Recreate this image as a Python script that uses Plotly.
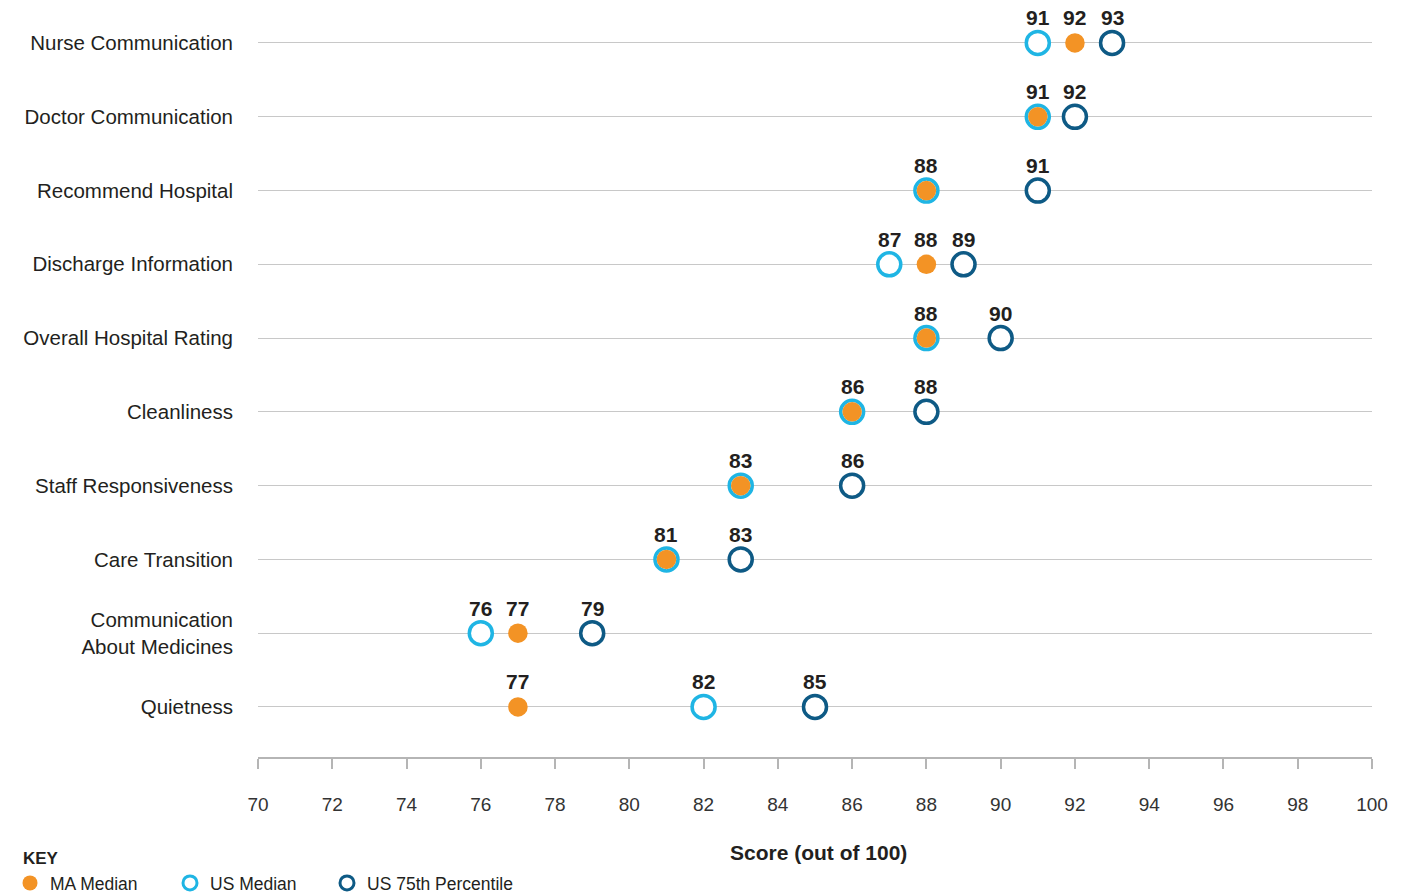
import plotly.graph_objects as go

categories = ["Nurse Communication", "Doctor Communication", "Recommend Hospital",
              "Discharge Information", "Overall Hospital Rating", "Cleanliness",
              "Staff Responsiveness", "Care Transition",
              "Communication<br>About Medicines", "Quietness"]
ma_median = [92, 91, 88, 88, 88, 86, 83, 81, 77, 77]
us_median = [91, 91, 88, 87, 88, 86, 83, 81, 76, 82]
us_75th = [93, 92, 91, 89, 90, 88, 86, 83, 79, 85]
x_ticks = list(range(70, 101, 2))

ORANGE = "#f39325"
CYAN = "#1fb5e4"
NAVY = "#0e5a85"
TEXT = "#231f20"
BASE = "Liberation Sans, Arial, sans-serif"
COND = "Liberation Sans Narrow, Liberation Sans, Arial, sans-serif"

W, H = 1400, 885          # page body adds an 8px margin
L, R, T, B = 250, 36, 2, 136
PW = W - L - R
PH = H - T - B

n = len(categories)
ypos = [n - 1 - i for i in range(n)]

fig = go.Figure()
fig.add_trace(go.Scatter(
    x=us_75th, y=ypos, mode="markers", name="US 75th Percentile", showlegend=False,
    marker=dict(size=23, color="white", line=dict(color=NAVY, width=3.5)),
    hoverinfo="skip"))
fig.add_trace(go.Scatter(
    x=us_median, y=ypos, mode="markers", name="US Median", showlegend=False,
    marker=dict(size=23, color="white", line=dict(color=CYAN, width=3.5)),
    hoverinfo="skip"))
fig.add_trace(go.Scatter(
    x=ma_median, y=ypos, mode="markers", name="MA Median", showlegend=False,
    marker=dict(size=19.5, color=ORANGE, line=dict(width=0)),
    hoverinfo="skip"))

# legend-only entries
fig.add_trace(go.Scatter(x=[None], y=[None], mode="markers", name="MA Median",
                         legend="legend",
                         marker=dict(size=15, color=ORANGE, line=dict(width=0))))
fig.add_trace(go.Scatter(x=[None], y=[None], mode="markers", name="US Median",
                         legend="legend2",
                         marker=dict(size=14, color="white", line=dict(color=CYAN, width=3))))
fig.add_trace(go.Scatter(x=[None], y=[None], mode="markers", name="US 75th Percentile",
                         legend="legend3",
                         marker=dict(size=14, color="white", line=dict(color=NAVY, width=3))))

annotations = []
for i in range(n):
    vals = sorted(set([ma_median[i], us_median[i], us_75th[i]]))
    for v in vals:
        annotations.append(dict(
            x=v, y=ypos[i], xref="x", yref="y", text=str(v), showarrow=False,
            yshift=25, font=dict(family=COND, size=21, color=TEXT, weight="bold")))

annotations.append(dict(
    x=0.5 + 3 / PW, y=-(852 - 8 - (H - B)) / PH, xref="paper", yref="paper",
    text="<b>Score (out of 100)</b>",
    showarrow=False, xanchor="center", yanchor="middle",
    font=dict(family=BASE, size=21, color=TEXT)))
annotations.append(dict(
    x=(13 - L) / PW, y=-(851 - (H - B)) / PH, xref="paper", yref="paper",
    text="<b>KEY</b>",
    showarrow=False, xanchor="left", yanchor="middle",
    font=dict(family=BASE, size=17, color=TEXT)))

leg_common = dict(orientation="h", yanchor="middle", xanchor="left",
                  xref="container", yref="container", y=1 - 875 / H,
                  font=dict(family=BASE, size=17.5, color=TEXT),
                  itemsizing="trace", bgcolor="rgba(0,0,0,0)", borderwidth=0)

fig.update_layout(
    width=W, height=H,
    margin=dict(l=L, r=R, t=T, b=B, autoexpand=False),
    paper_bgcolor="white", plot_bgcolor="white",
    font=dict(family=BASE, color=TEXT),
    xaxis=dict(range=[70, 100], tickvals=x_ticks, showgrid=False, zeroline=False,
               showline=True, linecolor="#b5b5b5", linewidth=1.5,
               ticks="outside", ticklen=10, tickcolor="#b5b5b5", tickwidth=1.5,
               ticklabelstandoff=19, automargin=False,
               tickfont=dict(family=BASE, size=19, color="#333333")),
    yaxis=dict(range=[-0.678, 9.447], tickvals=ypos, ticktext=categories,
               showgrid=True, gridcolor="#c8c8c8", gridwidth=1, zeroline=False,
               showline=False, ticks="", ticklabelstandoff=24, automargin=False,
               tickfont=dict(family=BASE, size=20.5, color=TEXT)),
    showlegend=True,
    legend=dict(leg_common, x=2 / W),
    legend2=dict(leg_common, x=162 / W),
    legend3=dict(leg_common, x=319 / W),
    annotations=annotations,
)

fig.write_html("out.html")
